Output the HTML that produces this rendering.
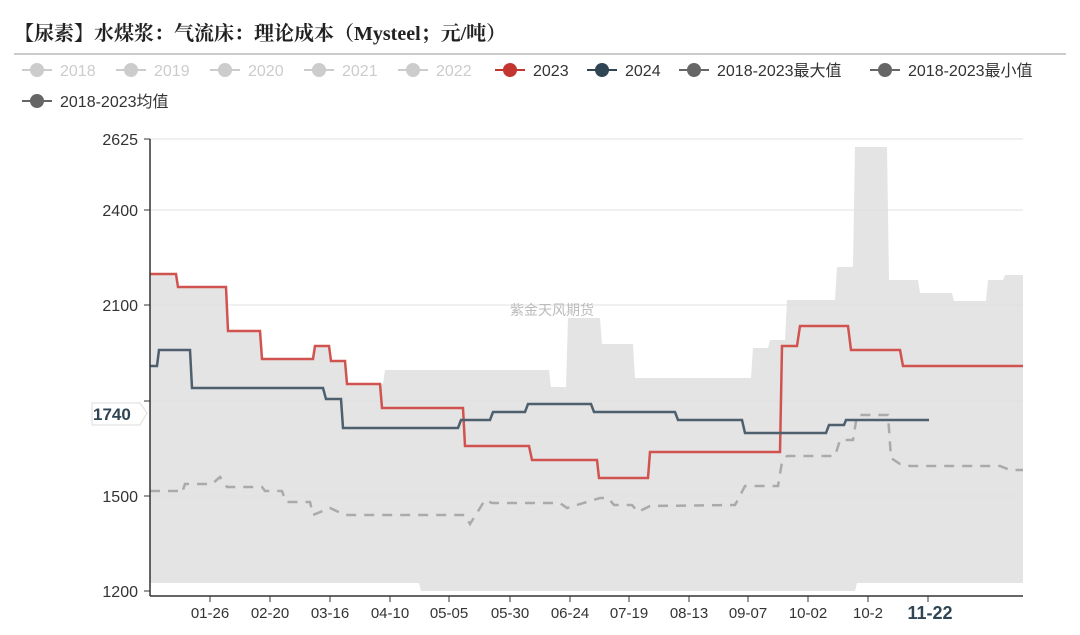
<!DOCTYPE html><html><head><meta charset="utf-8"><style>
body{margin:0;background:#fff;width:1080px;height:630px;overflow:hidden;font-family:"Liberation Sans","Noto Sans CJK SC",sans-serif}
</style></head><body>
<svg width="1080" height="630" xmlns="http://www.w3.org/2000/svg" font-family="Liberation Sans, Noto Sans CJK SC, sans-serif">
<text x="14" y="40" font-size="20" font-weight="bold" fill="#222" font-family="Liberation Serif, Noto Serif CJK SC, serif">【尿素】水煤浆：气流床：理论成本（Mysteel；元/吨）</text>
<line x1="14" y1="54" x2="1066" y2="54" stroke="#999" stroke-width="1"/>
<g font-size="16">
<g fill="#ccc" stroke="#ccc"><line x1="22" y1="70" x2="52" y2="70" stroke-width="2"/><circle cx="37" cy="70" r="7" stroke="none"/></g><text x="60" y="76" fill="#ccc">2018</text>
<g fill="#ccc" stroke="#ccc"><line x1="116" y1="70" x2="146" y2="70" stroke-width="2"/><circle cx="131" cy="70" r="7" stroke="none"/></g><text x="154" y="76" fill="#ccc">2019</text>
<g fill="#ccc" stroke="#ccc"><line x1="210" y1="70" x2="240" y2="70" stroke-width="2"/><circle cx="225" cy="70" r="7" stroke="none"/></g><text x="248" y="76" fill="#ccc">2020</text>
<g fill="#ccc" stroke="#ccc"><line x1="304" y1="70" x2="334" y2="70" stroke-width="2"/><circle cx="319" cy="70" r="7" stroke="none"/></g><text x="342" y="76" fill="#ccc">2021</text>
<g fill="#ccc" stroke="#ccc"><line x1="398" y1="70" x2="428" y2="70" stroke-width="2"/><circle cx="413" cy="70" r="7" stroke="none"/></g><text x="436" y="76" fill="#ccc">2022</text>
<g fill="#c23531" stroke="#c23531"><line x1="495" y1="70" x2="525" y2="70" stroke-width="2"/><circle cx="510" cy="70" r="7" stroke="none"/></g><text x="533" y="76" fill="#333">2023</text>
<g fill="#2f4554" stroke="#2f4554"><line x1="587" y1="70" x2="617" y2="70" stroke-width="2"/><circle cx="602" cy="70" r="7" stroke="none"/></g><text x="625" y="76" fill="#333">2024</text>
<g fill="#666" stroke="#666"><line x1="679" y1="70" x2="709" y2="70" stroke-width="2"/><circle cx="694" cy="70" r="7" stroke="none"/></g><text x="717" y="76" fill="#333">2018-2023最大值</text>
<g fill="#666" stroke="#666"><line x1="870" y1="70" x2="900" y2="70" stroke-width="2"/><circle cx="885" cy="70" r="7" stroke="none"/></g><text x="908" y="76" fill="#333">2018-2023最小值</text>
<g fill="#666" stroke="#666"><line x1="22" y1="101" x2="52" y2="101" stroke-width="2"/><circle cx="37" cy="101" r="7" stroke="none"/></g><text x="60" y="107" fill="#333">2018-2023均值</text>
</g>
<polygon fill="#e4e4e4" points="150,274 176,274 178,287 226,287 228,331 260,331 262,359 313,359 315,346 329,346 331,361 345,361 347,384 383,384 385,370 549,370 551,387 566,387 568,318 600,318 602,344 633,344 635,378 751,378 753,348 768,348 770,340 785,340 787,300 835,300 837,267 853,267 855,147 887,147 889,280 918,280 920,293 952,293 954,301 986,301 988,280 1003,280 1005,275 1023,275 1023,583 857,583 855,591 421,591 419,583 150,583"/>
<g stroke="#e0e0e0" stroke-width="1"><line x1="150" y1="139" x2="1023" y2="139"/><line x1="150" y1="210" x2="1023" y2="210"/><line x1="150" y1="305" x2="1023" y2="305"/><line x1="150" y1="401" x2="1023" y2="401"/><line x1="150" y1="496" x2="1023" y2="496"/></g>
<text x="552" y="315" font-size="14" fill="#bbb" text-anchor="middle">紫金天风期货</text>
<polyline fill="none" stroke="#aaa" stroke-width="2.5" stroke-dasharray="10,8" points="150,491 178,491 182,493 185,484 212,484 220,477 227,487 262,487 265,491 282,491 286,502 310,502 313,515 330,508 345,515 465,515 470,524 485,500 492,503 560,503 567,508 600,498 608,498 614,505 632,505 638,512 650,506 735,505 745,486 760,486 778,486 782,462 787,456 835,456 840,440 853,440 857,415 888,415 891,458 900,464 910,466 1000,466 1010,470 1023,470"/>
<polyline fill="none" stroke="#d05350" stroke-width="2.5" points="150,274 176,274 178,287 226,287 228,331 260,331 262,359 313,359 315,346 329,346 331,361 345,361 347,384 380,384 382,408 463,408 465,446 529,446 532,460 597,460 599,478 648,478 650,452 780,452 782,346 797,346 800,326 848,326 851,350 900,350 903,366 1023,366"/>
<polyline fill="none" stroke="#4e5f6e" stroke-width="2.5" points="150,366 157,366 159,350 190,350 192,388 323,388 326,399 341,399 343,428 458,428 461,420 490,420 493,412 525,412 528,404 591,404 594,412 675,412 678,420 742,420 745,433 826,433 829,425 844,425 846,420 929,420"/>
<line x1="150" y1="139" x2="150" y2="596" stroke="#333" stroke-width="1.5"/>
<line x1="150" y1="596" x2="1023" y2="596" stroke="#333" stroke-width="1.5"/>
<g stroke="#333"><line x1="144" y1="139" x2="150" y2="139"/><line x1="144" y1="210" x2="150" y2="210"/><line x1="144" y1="305" x2="150" y2="305"/><line x1="144" y1="401" x2="150" y2="401"/><line x1="144" y1="496" x2="150" y2="496"/><line x1="144" y1="591" x2="150" y2="591"/></g>
<g font-size="16" fill="#333" text-anchor="end"><text x="138" y="145">2625</text><text x="138" y="216">2400</text><text x="138" y="311">2100</text><text x="138" y="502">1500</text><text x="138" y="597">1200</text></g>
<polygon points="92,403 140,403 147,413 140,425 92,425" fill="#fff" stroke="#ddd"/>
<text x="93" y="420" font-size="17" font-weight="bold" fill="#2f4554">1740</text>
<g stroke="#333"><line x1="210" y1="596" x2="210" y2="602"/><line x1="270" y1="596" x2="270" y2="602"/><line x1="330" y1="596" x2="330" y2="602"/><line x1="390" y1="596" x2="390" y2="602"/><line x1="449" y1="596" x2="449" y2="602"/><line x1="510" y1="596" x2="510" y2="602"/><line x1="570" y1="596" x2="570" y2="602"/><line x1="629" y1="596" x2="629" y2="602"/><line x1="689" y1="596" x2="689" y2="602"/><line x1="748" y1="596" x2="748" y2="602"/><line x1="808" y1="596" x2="808" y2="602"/><line x1="868" y1="596" x2="868" y2="602"/><line x1="928" y1="596" x2="928" y2="602"/></g>
<g font-size="15" fill="#333" text-anchor="middle"><text x="210" y="618">01-26</text><text x="270" y="618">02-20</text><text x="330" y="618">03-16</text><text x="390" y="618">04-10</text><text x="449" y="618">05-05</text><text x="510" y="618">05-30</text><text x="570" y="618">06-24</text><text x="629" y="618">07-19</text><text x="689" y="618">08-13</text><text x="748" y="618">09-07</text><text x="808" y="618">10-02</text><text x="868" y="618">10-2</text><text x="930" y="619" font-size="18" font-weight="bold" fill="#2f4554">11-22</text></g>
</svg></body></html>
